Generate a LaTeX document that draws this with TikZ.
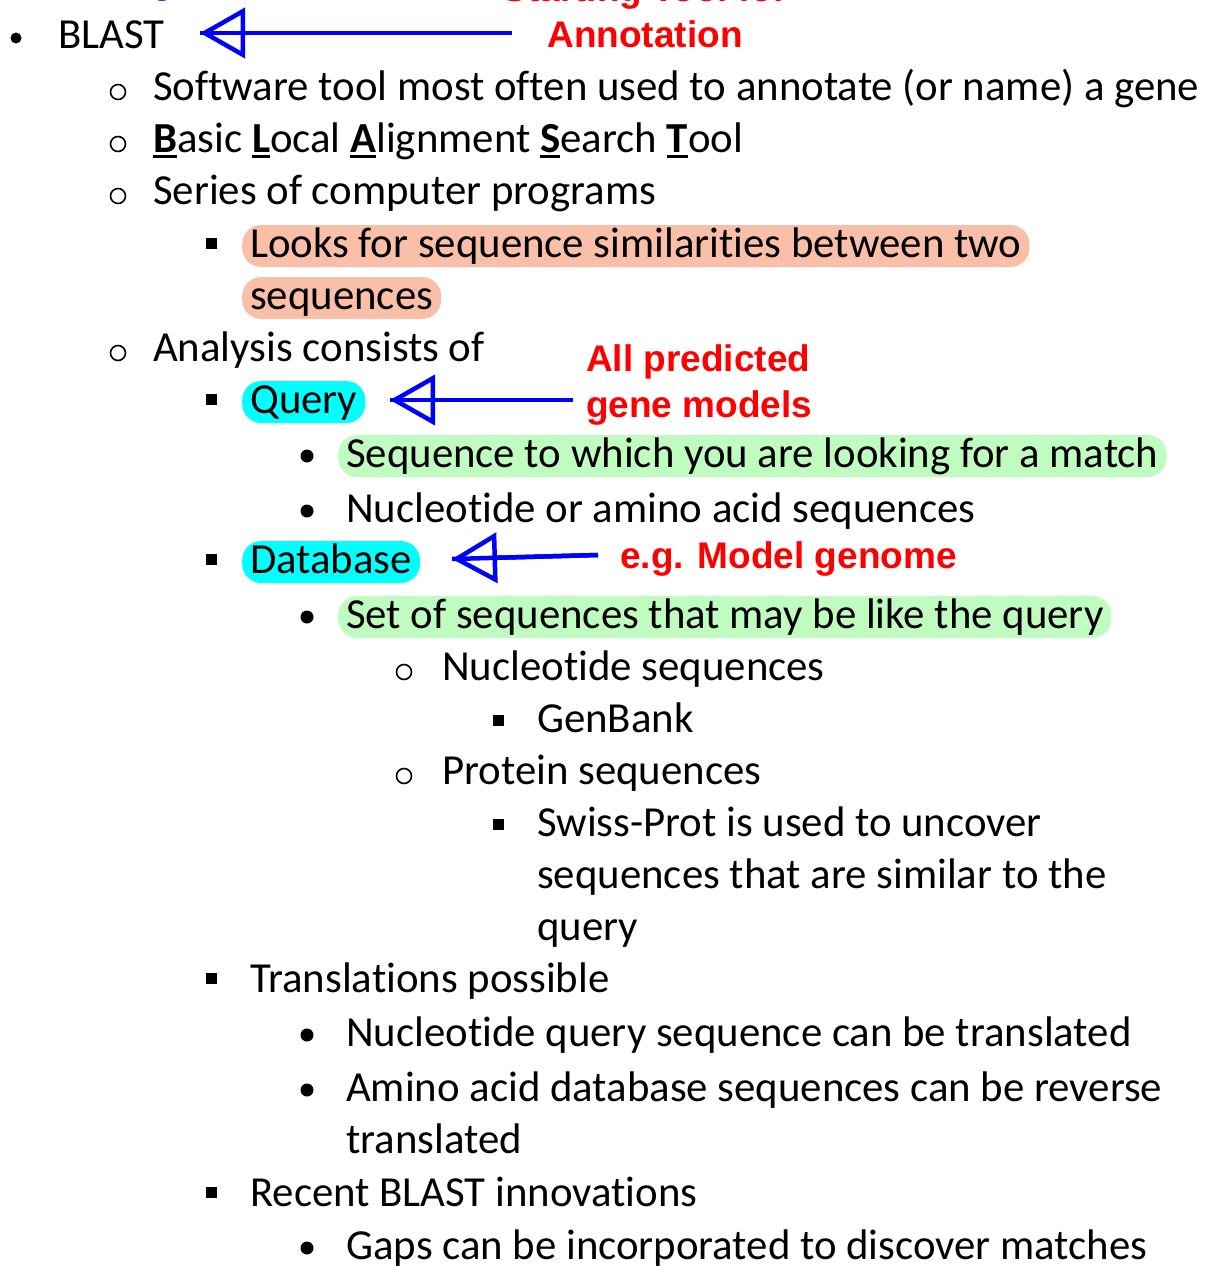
\documentclass[tikz,border=0pt]{standalone}
\usepackage{fontspec}
\setmainfont{Carlito}[Ligatures=NoCommon]
\newfontfamily\notefont{Liberation Sans}
\usetikzlibrary{arrows.meta}
\definecolor{hlsalmon}{HTML}{F9BFA9}
\definecolor{hlgreen}{HTML}{C0FCC0}
\definecolor{hlcyan}{HTML}{00FFFF}
\definecolor{noteblue}{HTML}{0000FF}
\definecolor{notered}{HTML}{FF0000}
\newcommand\keyletter[1]{\setbox0\hbox{\bfseries #1}\rlap{\rule[-6pt]{\wd0}{3pt}}\box0}
\tikzset{x=1pt, y=-1pt,
         line/.style={anchor=base west, inner sep=0pt, font=\fontsize{42.8}{50}\selectfont},
         hl/.style={line, inner xsep=8pt, text height=32pt, text depth=10pt, rounded corners=19pt},
         dotA/.style={circle, fill, inner sep=0pt, minimum size=11pt},
         ringB/.style={circle, draw, line width=1.6pt, inner sep=0pt, minimum size=15pt},
         squareC/.style={rectangle, fill, inner sep=0pt, minimum size=11pt},
         dotD/.style={circle, fill, inner sep=0pt, minimum size=13pt},
         note/.style={notered, inner sep=0pt, font=\notefont\bfseries\fontsize{37}{46}\selectfont},
         ptr/.style={noteblue, line width=4.5pt, -{Triangle[open, length=45pt, width=50pt]}},
         shaft/.style={noteblue, line width=4.5pt}}

\begin{document}
\begin{tikzpicture}
  \useasboundingbox (0,0) rectangle (1210,1266);
  % bullets
  \node[dotA] (b1) at (16,38) {};
  \foreach \y in {100,152,204,361} \node[ringB] (r\y) at (118,\y-8) {};
  \foreach \y in {257,413,573,992,1206} \node[squareC] (s\y) at (211,\y-14) {};
  \foreach \y in {467,522,628,1046,1101,1259} \node[dotD] (d\y) at (307,\y-11) {};
  \foreach \y in {680,784} \node[ringB] (o\y) at (404,\y-8) {};
  \foreach \y in {732,836} \node[squareC] (q\y) at (498.5,\y-12) {};
  % text lines
  \node[line] (blast) at (58,48) {BLAST};
  \node[line] (soft) at (153,100) {Software tool most often used to annotate (or name) a gene};
  \node[line] (acro) at (153,152) {\keyletter{B}asic \keyletter{L}ocal \keyletter{A}lignment \keyletter{S}earch \keyletter{T}ool};
  \node[line] (series) at (153,204) {Series of computer programs};
  \node[hl, fill=hlsalmon] (looksA) at (242,257) {Looks for sequence similarities between two};
  \node[hl, fill=hlsalmon] (looksB) at (242,309) {sequences};
  \node[line] (analysis) at (153,361) {Analysis consists of};
  \node[hl, fill=hlcyan] (query) at (242,413) {Query};
  \node[hl, fill=hlgreen] (qdesc) at (338,467) {Sequence to which you are looking for a match};
  \node[line] (qtype) at (346,522) {Nucleotide or amino acid sequences};
  \node[hl, fill=hlcyan] (database) at (242,573) {Database};
  \node[hl, fill=hlgreen] (dbdesc) at (338,628) {Set of sequences that may be like the query};
  \node[line] (nuc) at (442,680) {Nucleotide sequences};
  \node[line] (genbank) at (537,732) {GenBank};
  \node[line] (prot) at (442,784) {Protein sequences};
  \node[line] (swissA) at (537,836) {Swiss-Prot is used to uncover};
  \node[line] (swissB) at (537,888) {sequences that are similar to the};
  \node[line] (swissC) at (537,940) {query};
  \node[line] (trans) at (250,992) {Translations possible};
  \node[line] (transA) at (346,1046) {Nucleotide query sequence can be translated};
  \node[line] (transB) at (346,1101) {Amino acid database sequences can be reverse};
  \node[line] (transC) at (346,1153) {translated};
  \node[line] (recent) at (250,1206) {Recent BLAST innovations};
  \node[line] (gaps) at (346,1259) {Gaps can be incorporated to discover matches};
  % notes
  \node[note, anchor=base, text=noteblue] (cut) at (163,-6) {g};
  \node[note, align=center] (annot) at (645,11) {Starting Tool for\\Annotation};
  \node[note, align=left, anchor=west] (models) at (586,385) {All predicted\\gene models};
  \node[note, anchor=base west] (genome) at (620,568) {e.g. Model genome};
  \coordinate (annotTail) at (512,33);
  \coordinate (blastTip) at (200,33);
  \coordinate (modelsTail) at (573,400);
  \coordinate (queryTip) at (390,400);
  \coordinate (genomeTail) at (598,555);
  \coordinate (dbTip) at (452,559);
  \draw[ptr] (annotTail) -- (blastTip);
  \draw[shaft] (annotTail) -- (blastTip);
  \draw[ptr] (modelsTail) -- (queryTip);
  \draw[shaft] (modelsTail) -- (queryTip);
  \draw[ptr] (genomeTail) -- (dbTip);
  \draw[shaft] (genomeTail) -- (dbTip);
\end{tikzpicture}
\end{document}
